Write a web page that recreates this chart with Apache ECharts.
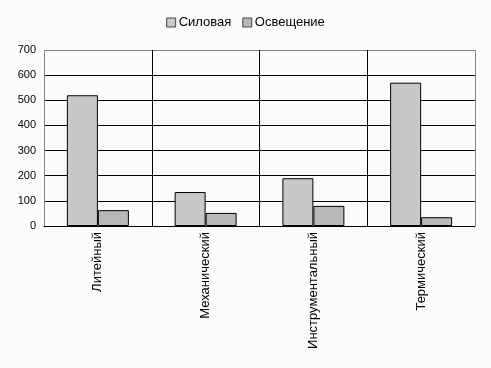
<!DOCTYPE html>
<html><head><meta charset="utf-8">
<script src="https://cdn.jsdelivr.net/npm/echarts@6/dist/echarts.min.js"></script>
<style>html,body{margin:0;padding:0;background:#fcfcfc;}#c{width:491px;height:368px;}</style>
</head><body><div id="c"></div>
<script>
const categories = ['Литейный', 'Механический', 'Инструментальный', 'Термический'];
const seriesNames = ['Силовая', 'Освещение'];
const silovaya = [520, 135, 190, 570];
const osveshenie = [63, 52, 80, 35];
const yTicks = [0, 100, 200, 300, 400, 500, 600, 700];

const chart = echarts.init(document.getElementById('c'), null, {renderer: 'canvas'});
const font = 'Liberation Sans, Arial, sans-serif';
chart.setOption({
  backgroundColor: '#fcfcfc',
  animation: false,
  textStyle: {fontFamily: font},
  legend: {
    top: 11, left: 'center', icon: 'rect',
    itemWidth: 9, itemHeight: 9, itemGap: 11,
    itemStyle: {borderColor: '#444', borderWidth: 1},
    textStyle: {fontSize: 13, color: '#000', fontFamily: font, padding: [0, 0, 0, -2]},
    data: seriesNames
  },
  grid: {left: 44, right: 16, top: 50, bottom: 142, containLabel: false},
  xAxis: {
    type: 'category', data: categories,
    axisLine: {lineStyle: {color: '#000', width: 1}},
    axisTick: {show: false},
    axisLabel: {rotate: 90, fontSize: 13, color: '#000', margin: 6, fontFamily: font},
    splitLine: {show: true, lineStyle: {color: ['#888', '#000', '#000', '#000', '#888'], width: 1}}
  },
  yAxis: {
    type: 'value', min: yTicks[0], max: yTicks[yTicks.length - 1], interval: 100,
    axisLine: {show: false},
    axisTick: {show: false},
    axisLabel: {fontSize: 11, color: '#000', margin: 8, fontFamily: font},
    splitLine: {show: true, lineStyle: {color: ['#000', '#000', '#000', '#000', '#000', '#000', '#000', '#888'], width: 1}}
  },
  series: [
    {name: seriesNames[0], type: 'bar', data: silovaya, barWidth: 31, barGap: '0%',
     itemStyle: {color: '#c8c8c8', borderColor: '#000', borderWidth: 1}},
    {name: seriesNames[1], type: 'bar', data: osveshenie, barWidth: 31, barGap: '0%',
     itemStyle: {color: '#b8b8b8', borderColor: '#000', borderWidth: 1}}
  ]
});
</script></body></html>
